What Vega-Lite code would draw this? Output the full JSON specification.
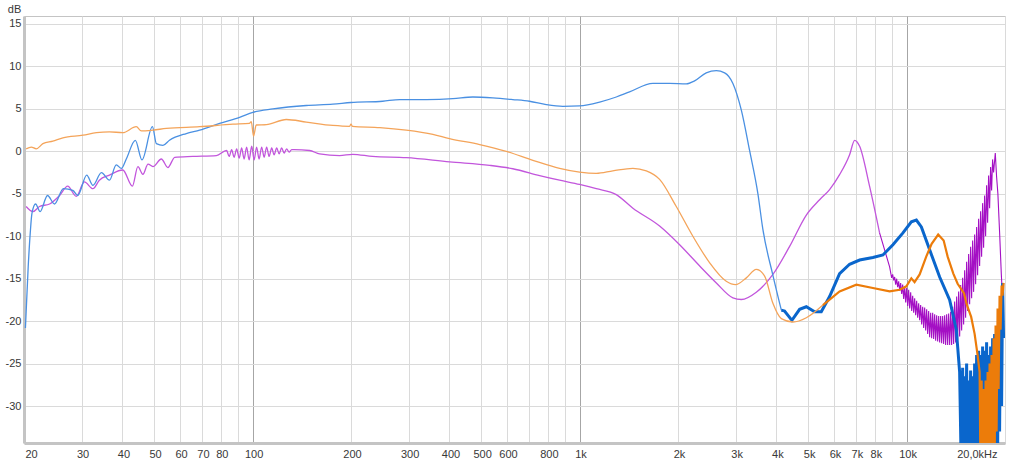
{
  "$schema": "https://vega.github.io/schema/vega-lite/v6.json",
  "width": 981,
  "height": 427,
  "autosize": {"type": "none"},
  "padding": {"left": 24, "top": 16, "right": 19, "bottom": 24},
  "background": "white",
  "config": {
    "view": {"stroke": "#c4c4c4", "strokeWidth": 1},
    "axis": {"labelFont": "Liberation Sans", "labelFontSize": 11, "labelColor": "#383838", "titleFont": "Liberation Sans"}
  },
  "datasets": {
    "pA": [
      {"f":20.3,"db":-6.5},{"f":21.3,"db":-7.1},{"f":22.3,"db":-6.5},{"f":23.95,"db":-6.2},{"f":25.7,"db":-5.2},{"f":27.2,"db":-4.1},{"f":28.9,"db":-5.3},{"f":30.6,"db":-3.6},{"f":32.5,"db":-4.4},{"f":34.0,"db":-3.4},{"f":36.5,"db":-2.8},{"f":40.1,"db":-2.2},{"f":42.9,"db":-4.1},{"f":44.6,"db":-1.8},{"f":46.2,"db":-2.7},{"f":47.9,"db":-1.5},{"f":49.6,"db":-1.8},{"f":52.6,"db":-0.9},{"f":55.1,"db":-1.9},{"f":57.8,"db":-0.7},{"f":65.7,"db":-0.6},{"f":77.5,"db":-0.5},
      {"f":83.3,"db":0.1},{"f":84.8,"db":-0.6},{"f":86.3,"db":0.2},{"f":87.8,"db":-0.7},{"f":89.4,"db":0.3},{"f":91.0,"db":-0.8},{"f":92.6,"db":0.4},{"f":94.2,"db":-0.9},{"f":95.9,"db":0.5},{"f":97.6,"db":-1.0},{"f":99.4,"db":0.6},{"f":101.1,"db":-1.0},{"f":102.9,"db":0.5},{"f":104.7,"db":-0.9},{"f":106.6,"db":0.5},{"f":108.5,"db":-0.7},{"f":110.4,"db":0.5},{"f":112.4,"db":-0.6},{"f":114.4,"db":0.4},{"f":116.4,"db":-0.4},{"f":118.5,"db":0.4},{"f":120.6,"db":-0.3},{"f":122.7,"db":0.4},{"f":124.9,"db":-0.2},{"f":127.1,"db":0.3},{"f":129.4,"db":-0.1},{"f":131.7,"db":0.2},
      {"f":134,"db":0.2},{"f":149.4,"db":0.1},{"f":160.3,"db":-0.3},{"f":184.6,"db":-0.5},{"f":202.3,"db":-0.35},{"f":232.8,"db":-0.6},{"f":295.2,"db":-0.75},{"f":400.5,"db":-1.25},{"f":530.8,"db":-1.65},{"f":625,"db":-2.05},{"f":754.8,"db":-2.85},{"f":868.9,"db":-3.4},{"f":1000,"db":-3.9},{"f":1125,"db":-4.4},{"f":1295,"db":-5.1},{"f":1456,"db":-6.7},{"f":1757,"db":-8.8},{"f":2023,"db":-11.0},{"f":2330,"db":-13.5},{"f":2620,"db":-15.5},{"f":2944,"db":-17.25},{"f":3124,"db":-17.45},{"f":3471,"db":-16.6},{"f":3902,"db":-14.5},{"f":4389,"db":-11.2},{"f":4937,"db":-7.5},{"f":5421,"db":-5.7},{"f":5816,"db":-4.5},{"f":6240,"db":-2.75},{"f":6696,"db":-0.4},{"f":6937,"db":1.3},{"f":7186,"db":0.6},{"f":7706,"db":-4.1},{"f":8270,"db":-9.6}
    ],
    "pB": [
      {"f":8270,"db":-9.6},{"f":8875,"db":-13.6},
      {"f":9004,"db":-14.9},{"f":9068,"db":-14.5},{"f":9131,"db":-15.2},{"f":9196,"db":-14.8},{"f":9262,"db":-15.7},{"f":9327,"db":-15.0},{"f":9392,"db":-16.0},{"f":9459,"db":-15.3},{"f":9526,"db":-16.4},{"f":9593,"db":-15.5},{"f":9661,"db":-16.8},{"f":9729,"db":-15.7},{"f":9798,"db":-17.4},{"f":9867,"db":-15.9},{"f":9937,"db":-17.8},{"f":10007,"db":-16.1},{"f":10078,"db":-18.2},{"f":10149,"db":-16.3},{"f":10221,"db":-18.5},{"f":10293,"db":-16.6},{"f":10366,"db":-18.8},{"f":10439,"db":-17.0},{"f":10513,"db":-19.0},{"f":10587,"db":-17.3},{"f":10662,"db":-19.3},{"f":10737,"db":-17.6},{"f":10813,"db":-19.6},{"f":10889,"db":-17.9},{"f":10966,"db":-19.9},{"f":11043,"db":-18.1},{"f":11122,"db":-20.4},{"f":11200,"db":-18.3},{"f":11279,"db":-20.8},{"f":11359,"db":-18.4},{"f":11439,"db":-21.1},{"f":11520,"db":-18.6},{"f":11601,"db":-21.5},{"f":11683,"db":-18.8},{"f":11766,"db":-21.9},{"f":11849,"db":-19.0},{"f":11933,"db":-22.0},{"f":12017,"db":-19.0},{"f":12102,"db":-22.1},{"f":12187,"db":-19.2},{"f":12273,"db":-22.3},{"f":12360,"db":-19.3},{"f":12447,"db":-22.4},{"f":12535,"db":-19.4},{"f":12624,"db":-22.5},{"f":12713,"db":-19.4},{"f":12803,"db":-22.6},{"f":12893,"db":-19.4},{"f":12984,"db":-22.7},{"f":13076,"db":-19.3},{"f":13168,"db":-22.8},{"f":13261,"db":-19.2},{"f":13355,"db":-22.8},{"f":13449,"db":-19.1},{"f":13544,"db":-22.8},{"f":13640,"db":-18.9},{"f":13736,"db":-22.8},{"f":13833,"db":-18.3},{"f":13930,"db":-22.7},{"f":14028,"db":-17.7},{"f":14128,"db":-22.5},{"f":14228,"db":-17.1},{"f":14328,"db":-22.2},{"f":14429,"db":-16.5},{"f":14531,"db":-21.8},{"f":14634,"db":-15.75},{"f":14737,"db":-21.1},{"f":14841,"db":-14.9},{"f":14946,"db":-20.4},{"f":15052,"db":-14.0},{"f":15157,"db":-19.6},{"f":15264,"db":-13.0},{"f":15372,"db":-18.8},{"f":15481,"db":-12.1},{"f":15590,"db":-18.0},{"f":15700,"db":-11.25},{"f":15811,"db":-17.3},{"f":15923,"db":-10.5},{"f":16035,"db":-16.55},{"f":16148,"db":-9.8},{"f":16262,"db":-15.65},{"f":16377,"db":-8.9},{"f":16492,"db":-14.6},{"f":16609,"db":-7.95},{"f":16726,"db":-13.5},{"f":16844,"db":-7.05},{"f":16963,"db":-12.4},{"f":17083,"db":-6.1},{"f":17203,"db":-11.35},{"f":17325,"db":-5.2},{"f":17447,"db":-10.0},{"f":17570,"db":-4.0},{"f":17694,"db":-8.4},{"f":17819,"db":-2.85},{"f":17945,"db":-6.7},{"f":18072,"db":-1.85},{"f":18199,"db":-4.6},{"f":18328,"db":-0.95},{"f":18457,"db":-2.5},
      {"f":18678,"db":-0.2},{"f":18850,"db":-3.0},{"f":19023,"db":-5.0},{"f":19252,"db":-9.5},{"f":19484,"db":-14.4},{"f":19663,"db":-17.5},{"f":19802,"db":-18}
    ],
    "bA": [
      {"f":20.2,"db":-20.8},{"f":20.6,"db":-13.6},{"f":20.9,"db":-9.6},{"f":21.15,"db":-7.3},{"f":21.7,"db":-6.2},{"f":22.4,"db":-7.1},{"f":23.6,"db":-5.2},{"f":24.8,"db":-6.2},{"f":26.4,"db":-4.4},{"f":28.2,"db":-4.6},{"f":29.2,"db":-5.2},{"f":31.1,"db":-2.8},{"f":32.5,"db":-4.0},{"f":34.5,"db":-2.5},{"f":36.5,"db":-3.4},{"f":38.3,"db":-1.6},{"f":39.7,"db":-2.0},{"f":41.1,"db":-0.9},{"f":43.8,"db":1.3},{"f":45.9,"db":-1.0},{"f":49.4,"db":2.9},{"f":50.8,"db":0.9},{"f":53.2,"db":0.7},{"f":55.7,"db":1.3},{"f":62.7,"db":2.1},{"f":68.9,"db":2.5},{"f":79.3,"db":3.3},{"f":91.3,"db":4.0},{"f":100.2,"db":4.6},{"f":115.4,"db":5.0},{"f":146,"db":5.4},{"f":176,"db":5.55},{"f":200,"db":5.75},{"f":250,"db":5.9},{"f":282,"db":6.1},{"f":340,"db":6.1},{"f":410,"db":6.2},{"f":472,"db":6.4},{"f":543,"db":6.3},{"f":625,"db":6.1},{"f":703,"db":5.9},{"f":791,"db":5.5},{"f":889,"db":5.3},{"f":1000,"db":5.35},{"f":1152,"db":5.8},{"f":1295,"db":6.4},{"f":1422,"db":7.0},{"f":1676,"db":8.0},{"f":1886,"db":8.0},{"f":2120,"db":7.95},{"f":2248,"db":8.3},{"f":2440,"db":9.25},{"f":2620,"db":9.5},{"f":2777,"db":9.25},{"f":2944,"db":8.0},{"f":3124,"db":4.85},{"f":3311,"db":0.1},{"f":3511,"db":-5.0},{"f":3636,"db":-9.2},{"f":3902,"db":-14.6},{"f":4140,"db":-18.7}
    ],
    "bB": [
      {"f":4140,"db":-18.7},{"f":4236,"db":-18.8},{"f":4460,"db":-19.9},{"f":4709,"db":-18.6},{"f":4937,"db":-18.3},{"f":5232,"db":-18.9},{"f":5485,"db":-18.9},{"f":5816,"db":-17.1},{"f":6240,"db":-14.4},{"f":6696,"db":-13.3},{"f":7186,"db":-12.8},{"f":7890,"db":-12.5},{"f":8466,"db":-12.2},{"f":9085,"db":-11.0},{"f":9748,"db":-9.6},{"f":10343,"db":-8.3},{"f":10714,"db":-8.1},{"f":11098,"db":-8.9},{"f":11766,"db":-11.6},{"f":12624,"db":-14.8},{"f":13544,"db":-17.5},{"f":14196,"db":-21},{"f":14531,"db":-26},{"f":14737,"db":-40},
      {"f":14841,"db":-25.5},{"f":14946,"db":-40},{"f":15052,"db":-26.5},{"f":15157,"db":-40},{"f":15264,"db":-25.0},{"f":15372,"db":-40},{"f":15481,"db":-27},{"f":15590,"db":-36},{"f":15700,"db":-25.8},{"f":15811,"db":-40},{"f":15923,"db":-26.5},{"f":16035,"db":-40},{"f":16148,"db":-25},{"f":16262,"db":-40},{"f":16377,"db":-24},{"f":16492,"db":-40},{"f":16609,"db":-23.5},{"f":16726,"db":-38},{"f":16844,"db":-24},{"f":16963,"db":-40},{"f":17083,"db":-23},{"f":17203,"db":-40},{"f":17325,"db":-23.5},{"f":17447,"db":-40},{"f":17570,"db":-22.5},{"f":17694,"db":-38},{"f":17819,"db":-24},{"f":17945,"db":-40},{"f":18072,"db":-23},{"f":18199,"db":-40},{"f":18328,"db":-22},{"f":18457,"db":-38},{"f":18587,"db":-21.5},{"f":18718,"db":-40},{"f":18850,"db":-22},{"f":18983,"db":-36},{"f":19117,"db":-20},{"f":19252,"db":-33},{"f":19388,"db":-18},{"f":19525,"db":-30},{"f":19663,"db":-15.5},{"f":19802,"db":-22}
    ],
    "oA": [
      {"f":20.3,"db":0.3},{"f":21.05,"db":0.5},{"f":21.8,"db":0.3},{"f":22.85,"db":0.9},{"f":24.5,"db":1.2},{"f":26.3,"db":1.6},{"f":30.3,"db":1.9},{"f":33.3,"db":2.2},{"f":36.5,"db":2.3},{"f":40.1,"db":2.2},{"f":44.1,"db":2.9},{"f":45.7,"db":2.4},{"f":49.6,"db":2.5},{"f":54.5,"db":2.7},{"f":68.9,"db":2.9},{"f":87.1,"db":3.2},{"f":97.9,"db":3.3},{"f":99.1,"db":3.5},{"f":100.7,"db":1.8},{"f":102.6,"db":3.1},{"f":110.2,"db":3.15},{"f":126.8,"db":3.75},{"f":146,"db":3.45},{"f":176,"db":3.05},{"f":198,"db":2.95},{"f":200,"db":3.2},{"f":202,"db":2.95},{"f":245,"db":2.8},{"f":295,"db":2.5},{"f":356,"db":2.0},{"f":400,"db":1.5},{"f":495,"db":0.8},{"f":597,"db":0},{"f":720,"db":-1.05},{"f":869,"db":-2.0},{"f":1000,"db":-2.45},{"f":1125,"db":-2.6},{"f":1264,"db":-2.3},{"f":1456,"db":-2.0},{"f":1600,"db":-2.3},{"f":1757,"db":-3.3},{"f":1976,"db":-6.5},{"f":2221,"db":-10},{"f":2497,"db":-13.1},{"f":2809,"db":-15.3},{"f":3000,"db":-15.7},{"f":3236,"db":-14.9},{"f":3471,"db":-13.9},{"f":3681,"db":-14.7},{"f":3902,"db":-17.9},{"f":4140,"db":-19.7},{"f":4492,"db":-20.1},{"f":4937,"db":-19.6},{"f":5549,"db":-18.1}
    ],
    "oB": [
      {"f":5549,"db":-18.1},{"f":6240,"db":-16.5},{"f":7021,"db":-15.7},{"f":7890,"db":-16.1},{"f":8875,"db":-16.5},{"f":9526,"db":-16.3},{"f":9986,"db":-15.9},{"f":10343,"db":-14.95},{"f":10580,"db":-15.4},{"f":10966,"db":-14.5},{"f":11485,"db":-12.4},{"f":11933,"db":-10.9},{"f":12494,"db":-9.8},{"f":12985,"db":-10.5},{"f":13355,"db":-12.4},{"f":13900,"db":-14.4},{"f":14328,"db":-15.6},{"f":14980,"db":-16.7},{"f":15264,"db":-18},{"f":15760,"db":-19.5},{"f":16148,"db":-21.5},{"f":16492,"db":-24},{"f":16726,"db":-26},
      {"f":16844,"db":-40},{"f":16963,"db":-27},{"f":17083,"db":-40},{"f":17203,"db":-28},{"f":17325,"db":-40},{"f":17447,"db":-27},{"f":17570,"db":-40},{"f":17694,"db":-26},{"f":17819,"db":-40},{"f":17945,"db":-25},{"f":18072,"db":-40},{"f":18199,"db":-24},{"f":18328,"db":-40},{"f":18457,"db":-22},{"f":18587,"db":-38},{"f":18718,"db":-20.5},{"f":18850,"db":-33},{"f":18983,"db":-18.5},{"f":19117,"db":-28},{"f":19252,"db":-17},{"f":19388,"db":-21},{"f":19525,"db":-15.8},{"f":19663,"db":-17},{"f":19802,"db":-15.5}
    ]
  },
  "encoding": {
    "x": {
      "field": "f", "type": "quantitative",
      "scale": {"type": "log", "domain": [20, 20000], "nice": false},
      "axis": {
        "title": null,
        "values": [20,30,40,50,60,70,80,90,100,200,300,400,500,600,700,800,900,1000,2000,3000,4000,5000,6000,7000,8000,9000,10000,20000],
        "labelExpr": "datum.value == 20000 ? '20,0kHz' : (datum.value == 90 || datum.value == 700 || datum.value == 900 || datum.value == 9000) ? '' : datum.value >= 1000 ? (datum.value / 1000) + 'k' : datum.value + ''",
        "labelOverlap": false,
        "labelBound": false,
        "labelPadding": 5,
        "labelOffset": {"condition": {"test": "datum.value == 20000", "value": -8}, "value": 1},
        "ticks": false,
        "domain": true,
        "domainColor": "#c4c4c4",
        "domainWidth": 3,
        "grid": true,
        "gridColor": {"condition": {"test": "datum.value == 100 || datum.value == 1000 || datum.value == 10000", "value": "#a6a6a6"}, "value": "#dadada"},
        "gridWidth": 1
      }
    },
    "y": {
      "field": "db", "type": "quantitative",
      "scale": {"domain": [-34.35, 15.94], "nice": false, "zero": false},
      "axis": {
        "title": "dB",
        "titleAngle": 0,
        "titleX": -10,
        "titleY": -7,
        "titleAlign": "center",
        "titleBaseline": "middle",
        "titleFontSize": 11,
        "titleFontWeight": "normal",
        "titleColor": "#383838",
        "values": [-30,-25,-20,-15,-10,-5,0,5,10,15],
        "labelExpr": "datum.value + ''",
        "labelPadding": 3,
        "ticks": false,
        "domain": true,
        "domainColor": "#c4c4c4",
        "domainWidth": 3,
        "grid": true,
        "gridColor": "#dadada",
        "gridWidth": 1
      }
    }
  },
  "layer": [
    {"data": {"name": "pA"}, "mark": {"type": "line", "clip": true, "color": "#c256dc", "strokeWidth": 1.3, "interpolate": "monotone"}},
    {"data": {"name": "pB"}, "mark": {"type": "line", "clip": true, "color": "#a410c4", "strokeWidth": 1.1}},
    {"data": {"name": "bA"}, "mark": {"type": "line", "clip": true, "color": "#4a90e2", "strokeWidth": 1.3, "interpolate": "monotone"}},
    {"data": {"name": "bB"}, "mark": {"type": "line", "clip": true, "color": "#0a66cc", "strokeWidth": 3}},
    {"data": {"name": "oA"}, "mark": {"type": "line", "clip": true, "color": "#f4a45a", "strokeWidth": 1.3, "interpolate": "monotone"}},
    {"data": {"name": "oB"}, "mark": {"type": "line", "clip": true, "color": "#ec7c0a", "strokeWidth": 2.2}}
  ]
}
